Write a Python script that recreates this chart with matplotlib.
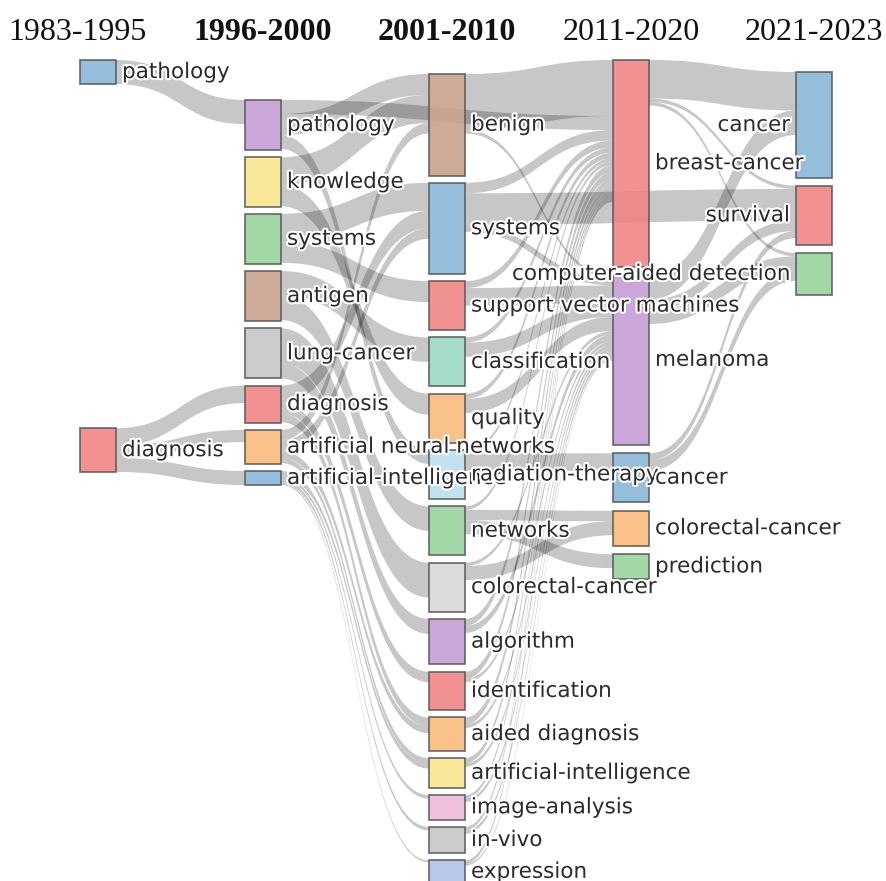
import matplotlib.pyplot as plt
from matplotlib.path import Path
from matplotlib.patches import PathPatch, Rectangle
import matplotlib.patheffects as pe

# periodos (colunas)
periods = ["1983-1995", "1996-2000", "2001-2010", "2011-2020", "2021-2023"]
bold_periods = ["1996-2000", "2001-2010"]

# nos de cada periodo e o seu peso
col0_names = ["pathology", "diagnosis"]
col0_values = [6.9, 12.6]

col1_names = ["pathology", "knowledge", "systems", "antigen", "lung-cancer",
              "diagnosis", "artificial neural networks", "artificial-intelligence"]
col1_values = [14.3, 14.1, 14.3, 14.3, 14.3, 10.6, 9.7, 4.0]

col2_names = ["benign", "systems", "support vector machines", "classification",
              "quality", "radiation-therapy", "networks", "colorectal-cancer",
              "algorithm", "identification", "aided diagnosis",
              "artificial-intelligence", "image-analysis", "in-vivo", "expression"]
col2_values = [29, 26, 14, 14, 14, 14, 14, 14, 13, 11, 9.5, 8.5, 7, 7.5, 6.5]

col3_names = ["breast-cancer", "melanoma", "cancer", "colorectal-cancer", "prediction"]
col3_values = [59, 48.5, 14, 10, 7]

col4_names = ["cancer", "survival", "computer-aided detection"]
col4_values = [30.3, 17.1, 12]

# ligacoes: "coluna/nome"
link_source = [
    "0/pathology", "0/diagnosis", "0/diagnosis", "0/diagnosis",
    "1/pathology", "1/pathology", "1/pathology",
    "1/knowledge", "1/knowledge",
    "1/systems", "1/systems",
    "1/antigen", "1/antigen",
    "1/lung-cancer", "1/lung-cancer",
    "1/diagnosis", "1/diagnosis", "1/diagnosis",
    "1/artificial neural networks", "1/artificial neural networks",
    "1/artificial neural networks", "1/artificial neural networks",
    "1/artificial-intelligence", "1/artificial-intelligence",
    "1/artificial-intelligence", "1/artificial-intelligence",
    "2/benign", "2/benign",
    "2/systems", "2/systems", "2/systems",
    "2/support vector machines", "2/support vector machines",
    "2/classification", "2/classification",
    "2/quality", "2/quality",
    "2/radiation-therapy", "2/radiation-therapy",
    "2/networks", "2/networks", "2/networks",
    "2/colorectal-cancer", "2/colorectal-cancer",
    "2/algorithm", "2/algorithm",
    "2/identification", "2/identification",
    "2/aided diagnosis", "2/aided diagnosis",
    "2/artificial-intelligence", "2/artificial-intelligence",
    "2/image-analysis", "2/image-analysis",
    "2/in-vivo", "2/in-vivo",
    "2/expression", "2/expression",
    "3/breast-cancer", "3/breast-cancer", "3/breast-cancer",
    "3/melanoma", "3/melanoma", "3/melanoma",
    "3/cancer", "3/cancer",
]
link_target = [
    "1/pathology", "1/diagnosis", "1/artificial neural networks", "1/artificial-intelligence",
    "3/breast-cancer", "2/benign", "2/radiation-therapy",
    "2/benign", "2/quality",
    "2/systems", "2/support vector machines",
    "2/classification", "2/networks",
    "2/colorectal-cancer", "2/algorithm",
    "2/systems", "2/identification", "2/aided diagnosis",
    "2/benign", "2/systems", "2/aided diagnosis", "2/artificial-intelligence",
    "2/artificial-intelligence", "2/image-analysis", "2/in-vivo", "2/expression",
    "3/breast-cancer", "3/melanoma",
    "3/breast-cancer", "4/survival", "3/melanoma",
    "3/melanoma", "3/breast-cancer",
    "3/melanoma", "3/breast-cancer",
    "3/melanoma", "3/breast-cancer",
    "3/cancer", "3/breast-cancer",
    "3/colorectal-cancer", "3/prediction", "3/breast-cancer",
    "3/colorectal-cancer", "3/melanoma",
    "3/breast-cancer", "3/melanoma",
    "3/breast-cancer", "3/melanoma",
    "3/breast-cancer", "3/melanoma",
    "3/breast-cancer", "3/melanoma",
    "3/breast-cancer", "3/melanoma",
    "3/breast-cancer", "3/melanoma",
    "3/breast-cancer", "3/melanoma",
    "4/cancer", "4/survival", "4/computer-aided detection",
    "4/cancer", "4/survival", "4/computer-aided detection",
    "4/survival", "4/computer-aided detection",
]
link_value = [
    6.9, 5, 3.5, 4,
    4, 6, 4,
    8, 6,
    8, 6,
    7, 7,
    10, 4.3,
    5, 3, 2.5,
    3, 3, 2, 1.5,
    1.5, 1, 1, 0.5,
    16, 1,
    3, 9, 2,
    5, 2,
    4, 1.5,
    4, 1.5,
    5, 1,
    3, 4, 1,
    4, 1,
    2, 2,
    2, 1,
    2, 1,
    1.5, 1,
    1, 1,
    1, 1,
    1, 0.5,
    11, 1, 1,
    7, 3, 4,
    2, 3,
]

# estilo
blue, red, purple, yellow = "#86b4d8", "#f08282", "#c39bd3", "#f9e58c"
green, brown, gray, orange = "#95d29a", "#c8a08a", "#c4c4c4", "#f9b878"
col_colors = [
    [blue, red],
    [purple, yellow, green, brown, gray, red, orange, blue],
    [brown, blue, red, "#98d8c0", orange, "#b8dff0", green, "#d6d6d6", purple,
     red, orange, yellow, "#f0b8d8", gray, "#b0c0e6"],
    [red, purple, blue, orange, green],
    [blue, red, green],
]
col_x = [80, 245, 429, 613, 796]
col_top = [60, 100, 74, 60, 72]
col_pad = [344, 7.2, 7.3, 8.5, 7.5]
node_w = 36
k = 3.5  # pixels por unidade

columns = [(col0_names, col0_values), (col1_names, col1_values), (col2_names, col2_values),
           (col3_names, col3_values), (col4_names, col4_values)]

# posicao dos nos (empilhados por coluna)
nodes = {}
for c, (names, values) in enumerate(columns):
    y = col_top[c]
    for i, (n, v) in enumerate(zip(names, values)):
        nodes[f"{c}/{n}"] = dict(col=c, name=n, y0=y, y1=y + v * k,
                                 color=col_colors[c][i], out=[], inc=[])
        y += v * k + col_pad[c]

links = []
for s, t, v in zip(link_source, link_target, link_value):
    lk = dict(s=s, t=t, v=v)
    links.append(lk)
    nodes[s]["out"].append(lk)
    nodes[t]["inc"].append(lk)

for key, nd in nodes.items():
    y = nd["y0"]
    for lk in sorted(nd["out"], key=lambda l: nodes[l["t"]]["y0"]):
        lk["sy"] = y
        y += lk["v"] * k
    y = nd["y0"]
    for lk in sorted(nd["inc"], key=lambda l: nodes[l["s"]]["y0"]):
        lk["ty"] = y
        y += lk["v"] * k

fig = plt.figure(figsize=(8.87, 8.81), dpi=100)
ax = fig.add_axes([0, 0, 1, 1])
ax.set_xlim(0, 887)
ax.set_ylim(881, 0)
ax.axis("off")

# ligacoes
for lk in links:
    s, t = nodes[lk["s"]], nodes[lk["t"]]
    x0 = col_x[s["col"]] + node_w
    x1 = col_x[t["col"]]
    xm = (x0 + x1) / 2
    h = lk["v"] * k
    a0, a1 = lk["sy"], lk["ty"]
    verts = [(x0, a0), (xm, a0), (xm, a1), (x1, a1),
             (x1, a1 + h), (xm, a1 + h), (xm, a0 + h), (x0, a0 + h), (x0, a0)]
    codes = [Path.MOVETO, Path.CURVE4, Path.CURVE4, Path.CURVE4,
             Path.LINETO, Path.CURVE4, Path.CURVE4, Path.CURVE4, Path.CLOSEPOLY]
    ax.add_patch(PathPatch(Path(verts, codes), facecolor="black", alpha=0.22,
                           edgecolor="none", zorder=1))

# nos e rotulos
halo = [pe.withStroke(linewidth=3, foreground="white")]
for key, nd in nodes.items():
    x = col_x[nd["col"]]
    ax.add_patch(Rectangle((x, nd["y0"]), node_w, nd["y1"] - nd["y0"],
                           facecolor=nd["color"], alpha=0.88, edgecolor="#555555",
                           lw=1.2, zorder=2))
    yc = (nd["y0"] + nd["y1"]) / 2
    if nd["col"] == 4:
        ax.text(x - 6, yc, nd["name"], ha="right", va="center", fontsize=15.5,
                color="#2b2b2b", path_effects=halo, zorder=3)
    else:
        ax.text(x + node_w + 6, yc, nd["name"], ha="left", va="center", fontsize=15.5,
                color="#2b2b2b", path_effects=halo, zorder=3)

# titulos dos periodos
for c, p in enumerate(periods):
    weight = "bold" if p in bold_periods else "normal"
    if c == 0:
        ax.text(8, 40, p, ha="left", va="baseline", fontsize=23,
                family="Liberation Serif", weight=weight, color="#111111")
    else:
        ax.text(col_x[c] + node_w / 2, 40, p, ha="center", va="baseline", fontsize=23,
                family="Liberation Serif", weight=weight, color="#111111")

fig.savefig("out.png", dpi=100)
